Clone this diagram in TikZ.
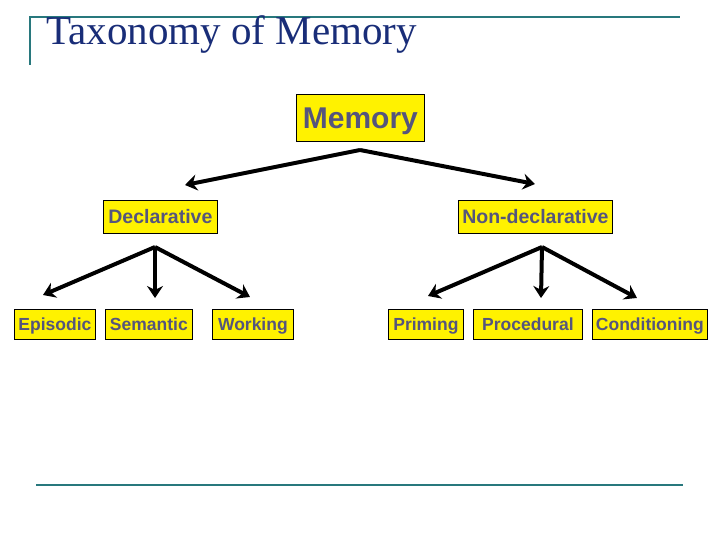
\documentclass[tikz,border=0pt]{standalone}
\usepackage{fontspec}
\setmainfont{Liberation Serif}
\setsansfont{Liberation Sans}
\usetikzlibrary{arrows.meta, positioning}

\definecolor{ruleteal}{RGB}{40,120,125}
\definecolor{titleblue}{RGB}{25,45,120}
\definecolor{boxtext}{RGB}{85,85,125}

\begin{document}
\begin{tikzpicture}[x=1pt, y=-1pt, >={Stealth[length=12pt, width=16pt, inset=4pt]},
	box/.style={draw=black, line width=0.8pt, fill=yellow, text=boxtext, anchor=west,
		font=\sffamily\bfseries\fontsize{17.5}{20}\selectfont, inner sep=0pt,
		minimum height=30pt, text height=12.5pt, text depth=0pt},
	bigbox/.style={box, font=\sffamily\bfseries\fontsize{19.5}{22}\selectfont,
		minimum height=33pt, text height=14pt},
	link/.style={->, line width=4pt}]
	
	\useasboundingbox (0,0) rectangle (720,540);
	
	% -------------------------------------------------------------------------
	% 1. Slide frame and title
	% -------------------------------------------------------------------------
	\draw[ruleteal, line width=2pt] (30,65) -- (30,17) -- (680,17);
	\draw[ruleteal, line width=2pt] (36,485) -- (683,485);
	\node[anchor=base west, inner sep=0pt, text=titleblue, font=\fontsize{41}{44}\selectfont] (title) at (46,45) {Taxonomy of Memory};
	
	% -------------------------------------------------------------------------
	% 2. Boxes
	% -------------------------------------------------------------------------
	\node[box, font=\sffamily\bfseries\fontsize{30}{34}\selectfont, minimum width=128pt, minimum height=47pt, text height=21.5pt] (memory) at (296,117.5) {Memory};
	
	\node[bigbox, minimum width=114pt] (declarative) at (103,216.5) {Declarative};
	\node[bigbox, minimum width=154pt] (nondeclarative) at (458,216.5) {Non-declarative};
	
	\node[box, minimum width=81pt] (episodic) at (14,324) {Episodic};
	\node[box, minimum width=87pt] (semantic) at (105,324) {Semantic};
	\node[box, minimum width=81pt] (working) at (212,324) {Working};
	\node[box, minimum width=75pt] (priming) at (388,324) {Priming};
	\node[box, minimum width=109pt] (procedural) at (473,324) {Procedural};
	\node[box, minimum width=115pt] (conditioning) at (592,324) {Conditioning};
	
	% -------------------------------------------------------------------------
	% 3. Fork points and arrow tips
	% -------------------------------------------------------------------------
	\coordinate (memFork) at (360,150);
	\coordinate (declTip) at (185,185);
	\coordinate (nondeclTip) at (535,184);
	
	\coordinate (declFork) at (155,247);
	\coordinate (episodicTip) at (43,295);
	\coordinate (semanticTip) at (155,298);
	\coordinate (workingTip) at (250,297);
	
	\coordinate (nondeclFork) at (542,247);
	\coordinate (primingTip) at (428,296);
	\coordinate (proceduralTip) at (541,298);
	\coordinate (conditioningTip) at (637,298);
	
	% -------------------------------------------------------------------------
	% 4. Arrows
	% -------------------------------------------------------------------------
	\draw[link] (memFork) -- (declTip);
	\draw[link] (memFork) -- (nondeclTip);
	
	\draw[link] (declFork) -- (episodicTip);
	\draw[link] (declFork) -- (semanticTip);
	\draw[link] (declFork) -- (workingTip);
	
	\draw[link] (nondeclFork) -- (primingTip);
	\draw[link] (nondeclFork) -- (proceduralTip);
	\draw[link] (nondeclFork) -- (conditioningTip);
	
\end{tikzpicture}
\end{document}
